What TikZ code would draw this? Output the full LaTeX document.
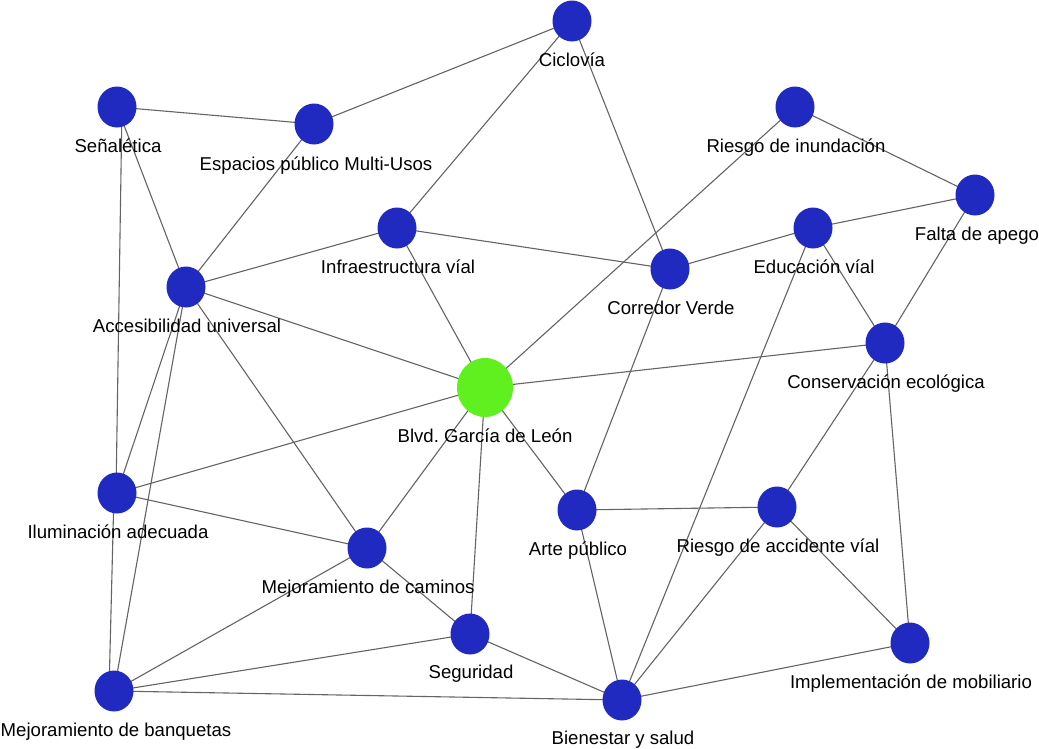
\documentclass[tikz,border=0pt]{standalone}
\usepackage{fontspec}
\setmainfont{Liberation Sans}
\usetikzlibrary{backgrounds,shapes.geometric}
\definecolor{nodeblue}{RGB}{33,42,192}
\definecolor{nodegreen}{RGB}{96,240,32}
\definecolor{edgegray}{RGB}{100,100,100}
\tikzset{
  vtx/.style={ellipse, fill=nodeblue, draw=none, minimum width=39pt, minimum height=41pt, inner sep=0pt},
  hub/.style={ellipse, fill=nodegreen, draw=none, minimum width=56pt, minimum height=59pt, inner sep=0pt},
  lbl/.style={anchor=base, inner sep=0pt, font=\fontsize{18.6}{22}\selectfont\frenchspacing, text=black},
  edge/.style={draw=edgegray, line width=1.1pt}
}
\begin{document}
\begin{tikzpicture}[x=1pt,y=-1pt]
\useasboundingbox (0,0) rectangle (1039,748);
% nodes
\node[vtx] (cic) at (572,21) {};
\node[vtx] (sen) at (117,107) {};
\node[vtx] (esp) at (314,124) {};
\node[vtx] (rin) at (795,107) {};
\node[vtx] (fal) at (975,195) {};
\node[vtx] (inf) at (397,228) {};
\node[vtx] (edu) at (813,228) {};
\node[vtx] (cor) at (670,269) {};
\node[vtx] (acc) at (186,287) {};
\node[vtx] (con) at (885,343) {};
\node[hub] (blvd) at (485,387.5) {};
\node[vtx] (ilu) at (117,493) {};
\node[vtx] (art) at (577,510) {};
\node[vtx] (rac) at (777,507) {};
\node[vtx] (mca) at (367,548) {};
\node[vtx] (seg) at (470,634) {};
\node[vtx] (imp) at (910,643) {};
\node[vtx] (ban) at (114,691) {};
\node[vtx] (bie) at (622,700) {};
% labels
\node[lbl] (cicL) at (572,66) {Ciclovía};
\node[lbl] (senL) at (118,152) {Señalética};
\node[lbl] (espL) at (316,170) {Espacios público Multi-Usos};
\node[lbl] (rinL) at (796,152) {Riesgo de inundación};
\node[lbl] (falL) at (977,240) {Falta de apego};
\node[lbl] (infL) at (398,273) {Infraestructura víal};
\node[lbl] (eduL) at (814,273) {Educación víal};
\node[lbl] (corL) at (671,314) {Corredor Verde};
\node[lbl] (accL) at (187,332) {Accesibilidad universal};
\node[lbl] (conL) at (886,388) {Conservación ecológica};
\node[lbl] (blvdL) at (485,442) {Blvd. García de León};
\node[lbl] (iluL) at (118,538) {Iluminación adecuada};
\node[lbl] (artL) at (578,555) {Arte público};
\node[lbl] (racL) at (778,552) {Riesgo de accidente víal};
\node[lbl] (mcaL) at (368,593) {Mejoramiento de caminos};
\node[lbl] (segL) at (471,678) {Seguridad};
\node[lbl] (impL) at (911,688) {Implementación de mobiliario};
\node[lbl] (banL) at (116,736) {Mejoramiento de banquetas};
\node[lbl] (bieL) at (623,744) {Bienestar y salud};
% edges
\begin{pgfonlayer}{background}
\fill[white] (0,0) rectangle (1039,748);
\foreach \a/\b in {cic/esp, cic/inf, cic/cor, sen/esp, sen/acc, esp/acc,
  rin/fal, rin/blvd, fal/edu, fal/con, inf/acc, inf/cor, inf/blvd, edu/cor, edu/con,
  edu/bie, cor/art, acc/blvd, acc/ilu, acc/ban, acc/mca, con/blvd, con/rac, con/imp,
  blvd/ilu, blvd/mca, blvd/seg, blvd/art, ilu/mca, art/rac, art/bie, rac/bie,
  rac/imp, mca/ban, mca/seg, seg/ban, seg/bie, ban/bie, imp/bie}
  \draw[edge] (\a.center) -- (\b.center);
\draw[edge] ([xshift=5pt]sen.center) -- ([xshift=-1pt]ilu.center);
\draw[edge] ([xshift=-3pt]ilu.center) -- ([xshift=-5pt]ban.center);
\end{pgfonlayer}
\end{tikzpicture}
\end{document}
